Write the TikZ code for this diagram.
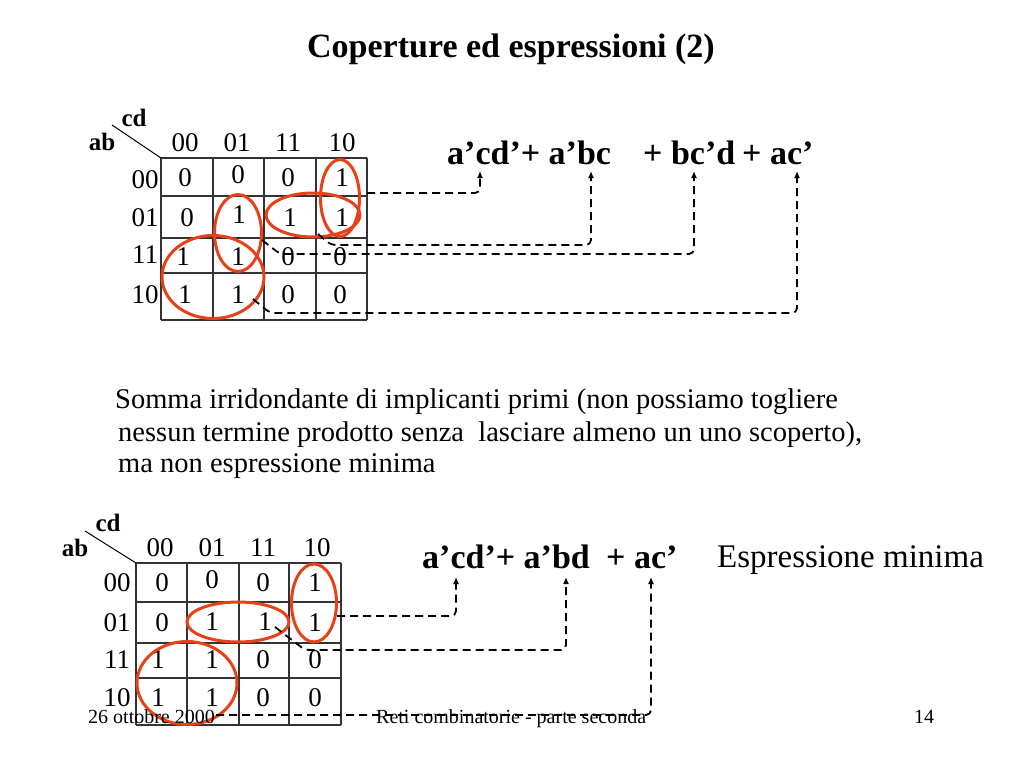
\documentclass[tikz,border=0pt]{standalone}
\usepackage{fontspec}
\setmainfont{Liberation Serif}
\usetikzlibrary{arrows.meta,shapes.geometric}
\definecolor{kred}{RGB}{232,64,24}
\tikzset{
  digit/.style={inner sep=0pt, font=\fontsize{27}{27}\selectfont},
  varlab/.style={inner sep=0pt, font=\fontsize{25}{25}\selectfont\bfseries},
  term/.style={inner sep=0pt, anchor=base west, font=\fontsize{34}{34}\selectfont\bfseries},
  note/.style={inner sep=0pt, anchor=base west, font=\fontsize{28.5}{28.5}\selectfont},
  foot/.style={inner sep=0pt, anchor=base west, font=\fontsize{20}{20}\selectfont},
  grid line/.style={line width=1.2pt, black!80},
  kcover/.style={draw=kred, line width=3pt, ellipse, inner sep=0pt},
  link/.style={dash pattern=on 8pt off 5pt, line width=1.8pt, rounded corners=5pt,
    -{Latex[length=7pt,width=6pt]}},
}
\begin{document}
\begin{tikzpicture}[x=1pt,y=-1pt]
    \useasboundingbox (0,0) rectangle (1024,768);

    \node[inner sep=0pt, anchor=base, font=\fontsize{34}{34}\selectfont\bfseries] (title) at (511,57) {Coperture ed espressioni (2)};

    % first map
    \foreach \x in {161,213,264,316,367} \draw[grid line] (\x,158) -- (\x,320);
    \foreach \y in {158,196,238,273,320} \draw[grid line] (161,\y) -- (367,\y);
    \coordinate (ta) at (112,125);
    \coordinate (tb) at (161,158);
    \draw[line width=1pt] (ta) -- (tb);
    \node[varlab] (tcd) at (134,118) {cd};
    \node[varlab] (tab) at (102,142) {ab};

    \node[digit] (tc0) at (185,143) {00};
    \node[digit] (tc1) at (237,143) {01};
    \node[digit] (tc2) at (288,143) {11};
    \node[digit] (tc3) at (342,143) {10};
    \node[digit] (tr0) at (145,180) {00};
    \node[digit] (tr1) at (145,218) {01};
    \node[digit] (tr2) at (145,255) {11};
    \node[digit] (tr3) at (145,295) {10};

    \node[digit] (t00) at (185,178) {0};
    \node[digit] (t01) at (238,175) {0};
    \node[digit] (t02) at (288,178) {0};
    \node[digit] (t03) at (342,178) {1};
    \node[digit] (t10) at (187,218) {0};
    \node[digit] (t11) at (239,215) {1};
    \node[digit] (t12) at (290,218) {1};
    \node[digit] (t13) at (342,218) {1};
    \node[digit] (t20) at (183,257) {1};
    \node[digit] (t21) at (238,257) {1};
    \node[digit] (t22) at (288,257) {0};
    \node[digit] (t23) at (340,257) {0};
    \node[digit] (t30) at (185,295) {1};
    \node[digit] (t31) at (238,295) {1};
    \node[digit] (t32) at (288,295) {0};
    \node[digit] (t33) at (340,295) {0};

    \node[kcover, minimum width=39pt, minimum height=77pt] (tg1) at (340,198) {};
    \node[kcover, minimum width=94pt, minimum height=44pt] (tg2) at (313,215) {};
    \node[kcover, minimum width=47pt, minimum height=77pt] (tg3) at (238,233) {};
    \node[kcover, minimum width=102pt, minimum height=83pt] (tg4) at (213,277) {};

    \node[term] (te1) at (447,164) {a’cd’+ a’bc};
    \node[term] (te2) at (643,164) {+ bc’d};
    \node[term] (te3) at (742,164) {+ ac’};

    \coordinate (ts1) at (367,193);
    \coordinate (ts2) at (318,234);
    \coordinate (ts3) at (262,240);
    \coordinate (ts4) at (253,299);
    \coordinate (tp1) at (480,171);
    \coordinate (tp2) at (591,171);
    \coordinate (tp3) at (694,171);
    \coordinate (tp4) at (797,171);
    \draw[link] (ts1) -| (tp1);
    \draw[link] (ts2) -- (331,245) -| (tp2);
    \draw[link] (ts3) -- (280,254) -| (tp3);
    \draw[link] (ts4) -- (270,313) -| (tp4);

    % text between the maps
    \node[note] (n1) at (115,408) {Somma irridondante di implicanti primi (non possiamo togliere};
    \node[note] (n2) at (118,441) {nessun termine prodotto senza\ \ lasciare almeno un uno scoperto),};
    \node[note] (n3) at (118,472) {ma non espressione minima};

    % second map
    \foreach \x in {136,187,239,289,341} \draw[grid line] (\x,563) -- (\x,725);
    \foreach \y in {563,602,643,678,725} \draw[grid line] (136,\y) -- (341,\y);
    \coordinate (ba) at (85,531);
    \coordinate (bb) at (136,563);
    \draw[line width=1pt] (ba) -- (bb);
    \node[varlab] (bcd) at (108,523) {cd};
    \node[varlab] (bab) at (75,548) {ab};

    \node[digit] (bc0) at (160,548) {00};
    \node[digit] (bc1) at (212,548) {01};
    \node[digit] (bc2) at (263,548) {11};
    \node[digit] (bc3) at (317,548) {10};
    \node[digit] (br0) at (117,583) {00};
    \node[digit] (br1) at (117,623) {01};
    \node[digit] (br2) at (117,660) {11};
    \node[digit] (br3) at (117,698) {10};

    \node[digit] (b00) at (162,583) {0};
    \node[digit] (b01) at (212,580) {0};
    \node[digit] (b02) at (263,583) {0};
    \node[digit] (b03) at (315,583) {1};
    \node[digit] (b10) at (162,623) {0};
    \node[digit] (b11) at (212,622) {1};
    \node[digit] (b12) at (265,622) {1};
    \node[digit] (b13) at (315,623) {1};
    \node[digit] (b20) at (158,660) {1};
    \node[digit] (b21) at (212,660) {1};
    \node[digit] (b22) at (263,660) {0};
    \node[digit] (b23) at (315,660) {0};
    \node[digit] (b30) at (158,698) {1};
    \node[digit] (b31) at (212,698) {1};
    \node[digit] (b32) at (263,698) {0};
    \node[digit] (b33) at (315,698) {0};

    \node[kcover, minimum width=45pt, minimum height=78pt] (bg1) at (314,603) {};
    \node[kcover, minimum width=102pt, minimum height=40pt] (bg2) at (238,622) {};
    \node[kcover, minimum width=100pt, minimum height=83pt] (bg3) at (187,683) {};

    \node[term] (be1) at (422,568) {a’cd’+ a’bd};
    \node[term] (be2) at (606,568) {+ ac’};
    \node[inner sep=0pt, anchor=base west, font=\fontsize{33}{33}\selectfont] (bmin) at (717,567) {Espressione minima};

    \coordinate (bs1) at (337,616);
    \coordinate (bs2) at (275,627);
    \coordinate (bs3) at (216,715);
    \coordinate (bp1) at (456,577);
    \coordinate (bp2) at (566,577);
    \coordinate (bp3) at (651,577);
    \draw[link] (bs1) -| (bp1);
    \draw[link] (bs2) -- (305,650) -| (bp2);
    \draw[link] (bs3) -| (bp3);

    % footer
    \node[foot] (fdate) at (88,723) {26 ottobre 2000};
    \node[foot] (fname) at (376,723) {Reti combinatorie - parte seconda};
    \node[foot] (fpage) at (914,723) {14};
\end{tikzpicture}
\end{document}
